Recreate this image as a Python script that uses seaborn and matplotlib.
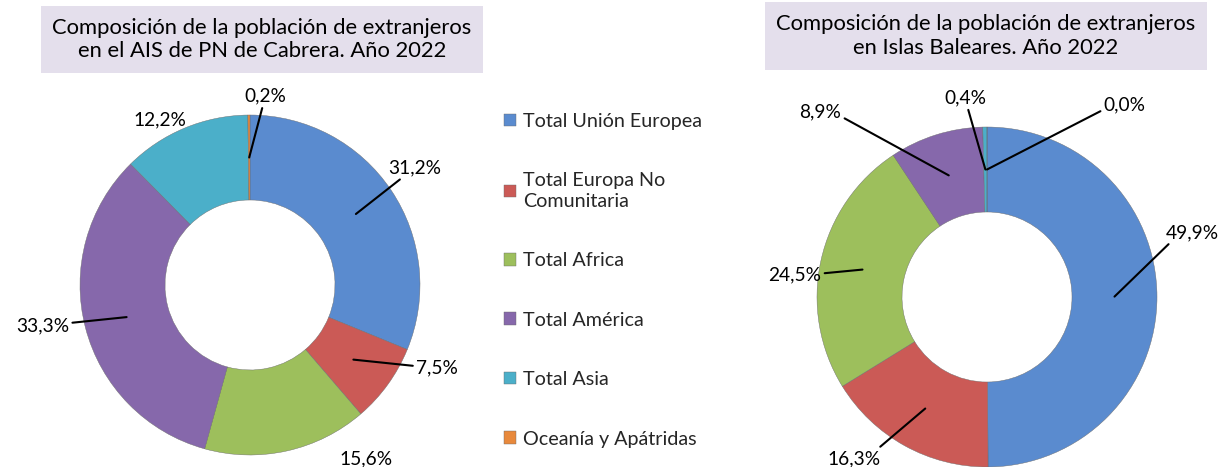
import matplotlib
matplotlib.use('Agg')
import matplotlib.pyplot as plt
from matplotlib.patches import Rectangle
import numpy as np
import seaborn as sns

# Data
categories = ["Total Unión Europea", "Total Europa No\nComunitaria", "Total Africa",
              "Total América", "Total Asia", "Oceanía y Apátridas"]
cabrera = [31.2, 7.5, 15.6, 33.3, 12.2, 0.2]
baleares = [49.9, 16.3, 24.5, 8.9, 0.4, 0.0]
titles = ["Composición de la población de extranjeros\nen el AIS de PN de Cabrera. Año 2022",
          "Composición de la población de extranjeros\nen Islas Baleares. Año 2022"]

# label placement (radius units) and leader line settings
cabrera_label_pos = [(0.97, 0.69), (1.10, -0.49), (0.68, -1.02), (-1.22, -0.24), (-0.53, 0.97), (0.09, 1.11)]
cabrera_leader = [None, None, False, None, False, None]
baleares_label_pos = [(1.21, 0.38), (-0.78, -0.95), (-1.13, 0.13), (-0.98, 1.09), (-0.13, 1.17), (0.81, 1.13)]
baleares_leader = [180, 0, 0, 0, None, 180]

sns.set_theme(style="white")
plt.rcParams['font.family'] = ['Lato', 'DejaVu Sans']
palette = sns.color_palette(["#5A8BCF", "#CB5A56", "#9DBF5C", "#8668AB", "#4BAFC9", "#E8893C"])

W, H = 1231, 467
fig = plt.figure(figsize=(W / 100, H / 100), dpi=100)


def donut(center, values, label_pos, leader):
    cx, cy = center
    r = 170
    ax = fig.add_axes([(cx - r) / W, (H - cy - r) / H, 2 * r / W, 2 * r / H])
    wedges, _ = ax.pie(values, colors=palette, startangle=90, counterclock=False,
                       radius=1, wedgeprops=dict(width=0.5, edgecolor="#6b6b6b", linewidth=0.3))
    ax.set_xlim(-1, 1)
    ax.set_ylim(-1, 1)
    ax.set_aspect('equal')
    ax.set_axis_off()
    total = sum(values)
    start = 90
    for v, pos, arm in zip(values, label_pos, leader):
        ang = np.deg2rad(start - v / total * 180)
        start -= v / total * 360
        txt = f"{v:.1f}".replace('.', ',') + '%'
        anchor = (0.75 * np.cos(ang), 0.75 * np.sin(ang))
        if arm is False:
            ax.text(pos[0], pos[1], txt, ha='center', va='center', fontsize=13.8, color='black')
            continue
        if arm is None:
            conn = "arc3"
        else:
            conn = f"arc,angleA={arm},armA=12,angleB=0,armB=0,rad=0"
        ax.annotate(txt, xy=anchor, xytext=pos, ha='center', va='center', fontsize=13.8,
                    color='black', annotation_clip=False,
                    arrowprops=dict(arrowstyle='-', color='black', lw=1.5,
                                    shrinkA=0, shrinkB=0, connectionstyle=conn))
    return wedges


wedges = donut((250, 285), cabrera, cabrera_label_pos, cabrera_leader)
donut((987, 297), baleares, baleares_label_pos, baleares_leader)

# title boxes
for (x0, x1, y0, y1), title in zip([(41, 483, 6, 73), (765, 1207, 2, 70)], titles):
    fig.patches.append(Rectangle((x0 / W, 1 - y1 / H), (x1 - x0) / W, (y1 - y0) / H,
                                 transform=fig.transFigure, facecolor="#E4DFEC",
                                 edgecolor='none', zorder=0))
    fig.text((x0 + x1) / 2 / W, 1 - (y0 + y1) / 2 / H, title, ha='center', va='center',
             fontsize=15.8, color='black', linespacing=1.2)

leg = fig.legend(wedges, categories, loc='upper left', bbox_to_anchor=(504 / W, 1 - 113 / H),
                 frameon=False, fontsize=14.2, labelspacing=2.15, handlelength=0.6,
                 handleheight=0.6, handletextpad=0.35, borderaxespad=0, borderpad=0)
leg.get_texts()[1].set_linespacing(1.25)

fig.savefig("out.png", dpi=100)
